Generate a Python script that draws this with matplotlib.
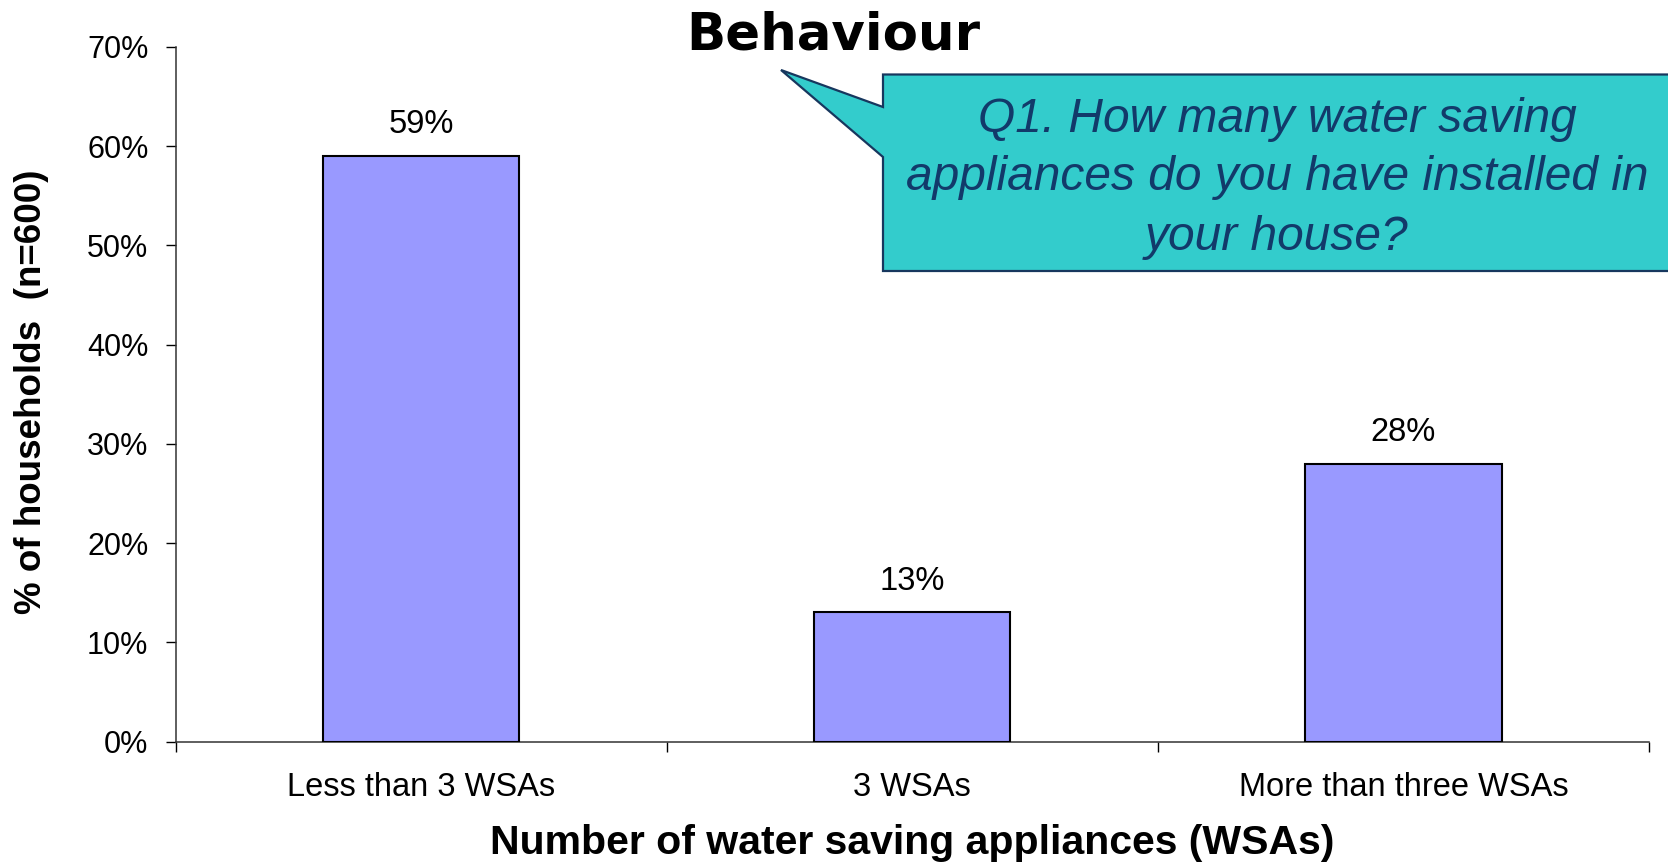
import matplotlib
matplotlib.use("Agg")
import matplotlib.pyplot as plt
from matplotlib.patches import Polygon
from matplotlib.ticker import FixedLocator, PercentFormatter

# Survey results
categories = ["Less than 3 WSAs", "3 WSAs", "More than three WSAs"]
shares = [59, 13, 28]
value_labels = ["59%", "13%", "28%"]
y_ticks = [0, 10, 20, 30, 40, 50, 60, 70]

title_text = "Behaviour"
question_text = ("Q1. How many water saving\n"
                 "appliances do you have installed in\n"
                 "your house?")
x_title = "Number of water saving appliances (WSAs)"
y_title = "% of households  (n=600)"

plt.rcParams["font.family"] = ["Liberation Sans", "DejaVu Sans"]

W, H = 1668, 865
fig = plt.figure(figsize=(W / 100, H / 100), dpi=100)
ax = fig.add_axes([175.5 / W, 1 - 741.5 / H, (1649 - 175.5) / W, (741.5 - 46.8) / H])

x = range(len(categories))
ax.bar(x, shares, width=0.4, color="#9999FF", edgecolor="black", linewidth=1.5, zorder=3)

for xi, v, lab in zip(x, shares, value_labels):
    ax.annotate(lab, (xi, v), xytext=(0, 16.5), textcoords="offset points",
                ha="center", va="baseline", fontsize=23.5, color="black")

ax.set_xlim(-0.5, 2.5)
ax.set_ylim(0, 70)
ax.set_yticks(y_ticks)
ax.yaxis.set_major_formatter(PercentFormatter(decimals=0))
ax.tick_params(axis="y", length=7.5, width=1, pad=12, labelsize=22, direction="out")

ax.set_xticks(list(x))
ax.set_xticklabels(categories, fontsize=23.5)
ax.xaxis.set_minor_locator(FixedLocator([-0.5, 0.5, 1.5, 2.5]))
ax.tick_params(axis="x", which="major", length=0, pad=22)
ax.tick_params(axis="x", which="minor", length=7.5, width=1, direction="out")

for side in ("top", "right"):
    ax.spines[side].set_visible(False)
for side in ("left", "bottom"):
    ax.spines[side].set_linewidth(1.1)
    ax.spines[side].set_color("#333333")

fig.text(912 / W, 1 - 842.5 / H, x_title, ha="center", va="center",
         fontsize=29.5, fontweight="bold")
fig.text(32 / W, 1 - 392 / H, y_title, ha="center", va="center",
         rotation=90, fontsize=26.5, fontweight="bold")

fig.text(833 / W, 1 - 49 / H, title_text, ha="center", va="baseline",
         fontsize=37, fontweight="bold", family="DejaVu Sans")

# Speech-bubble callout with the survey question
px = [(883, 74.5), (1690, 74.5), (1690, 271), (883, 271), (883, 157),
      (781, 70), (883, 107)]
verts = [(a / W, 1 - b / H) for a, b in px]
bubble = Polygon(verts, closed=True, transform=fig.transFigure,
                 facecolor="#33CCCC", edgecolor="#17375E", linewidth=1.6,
                 clip_on=False)
fig.patches.append(bubble)
fig.text(1277 / W, 1 - 178 / H, question_text, ha="center", va="center",
         fontsize=34.5, fontstyle="italic", color="#123A6A", linespacing=1.4,
         multialignment="center")

fig.savefig("out.png", dpi=100)
